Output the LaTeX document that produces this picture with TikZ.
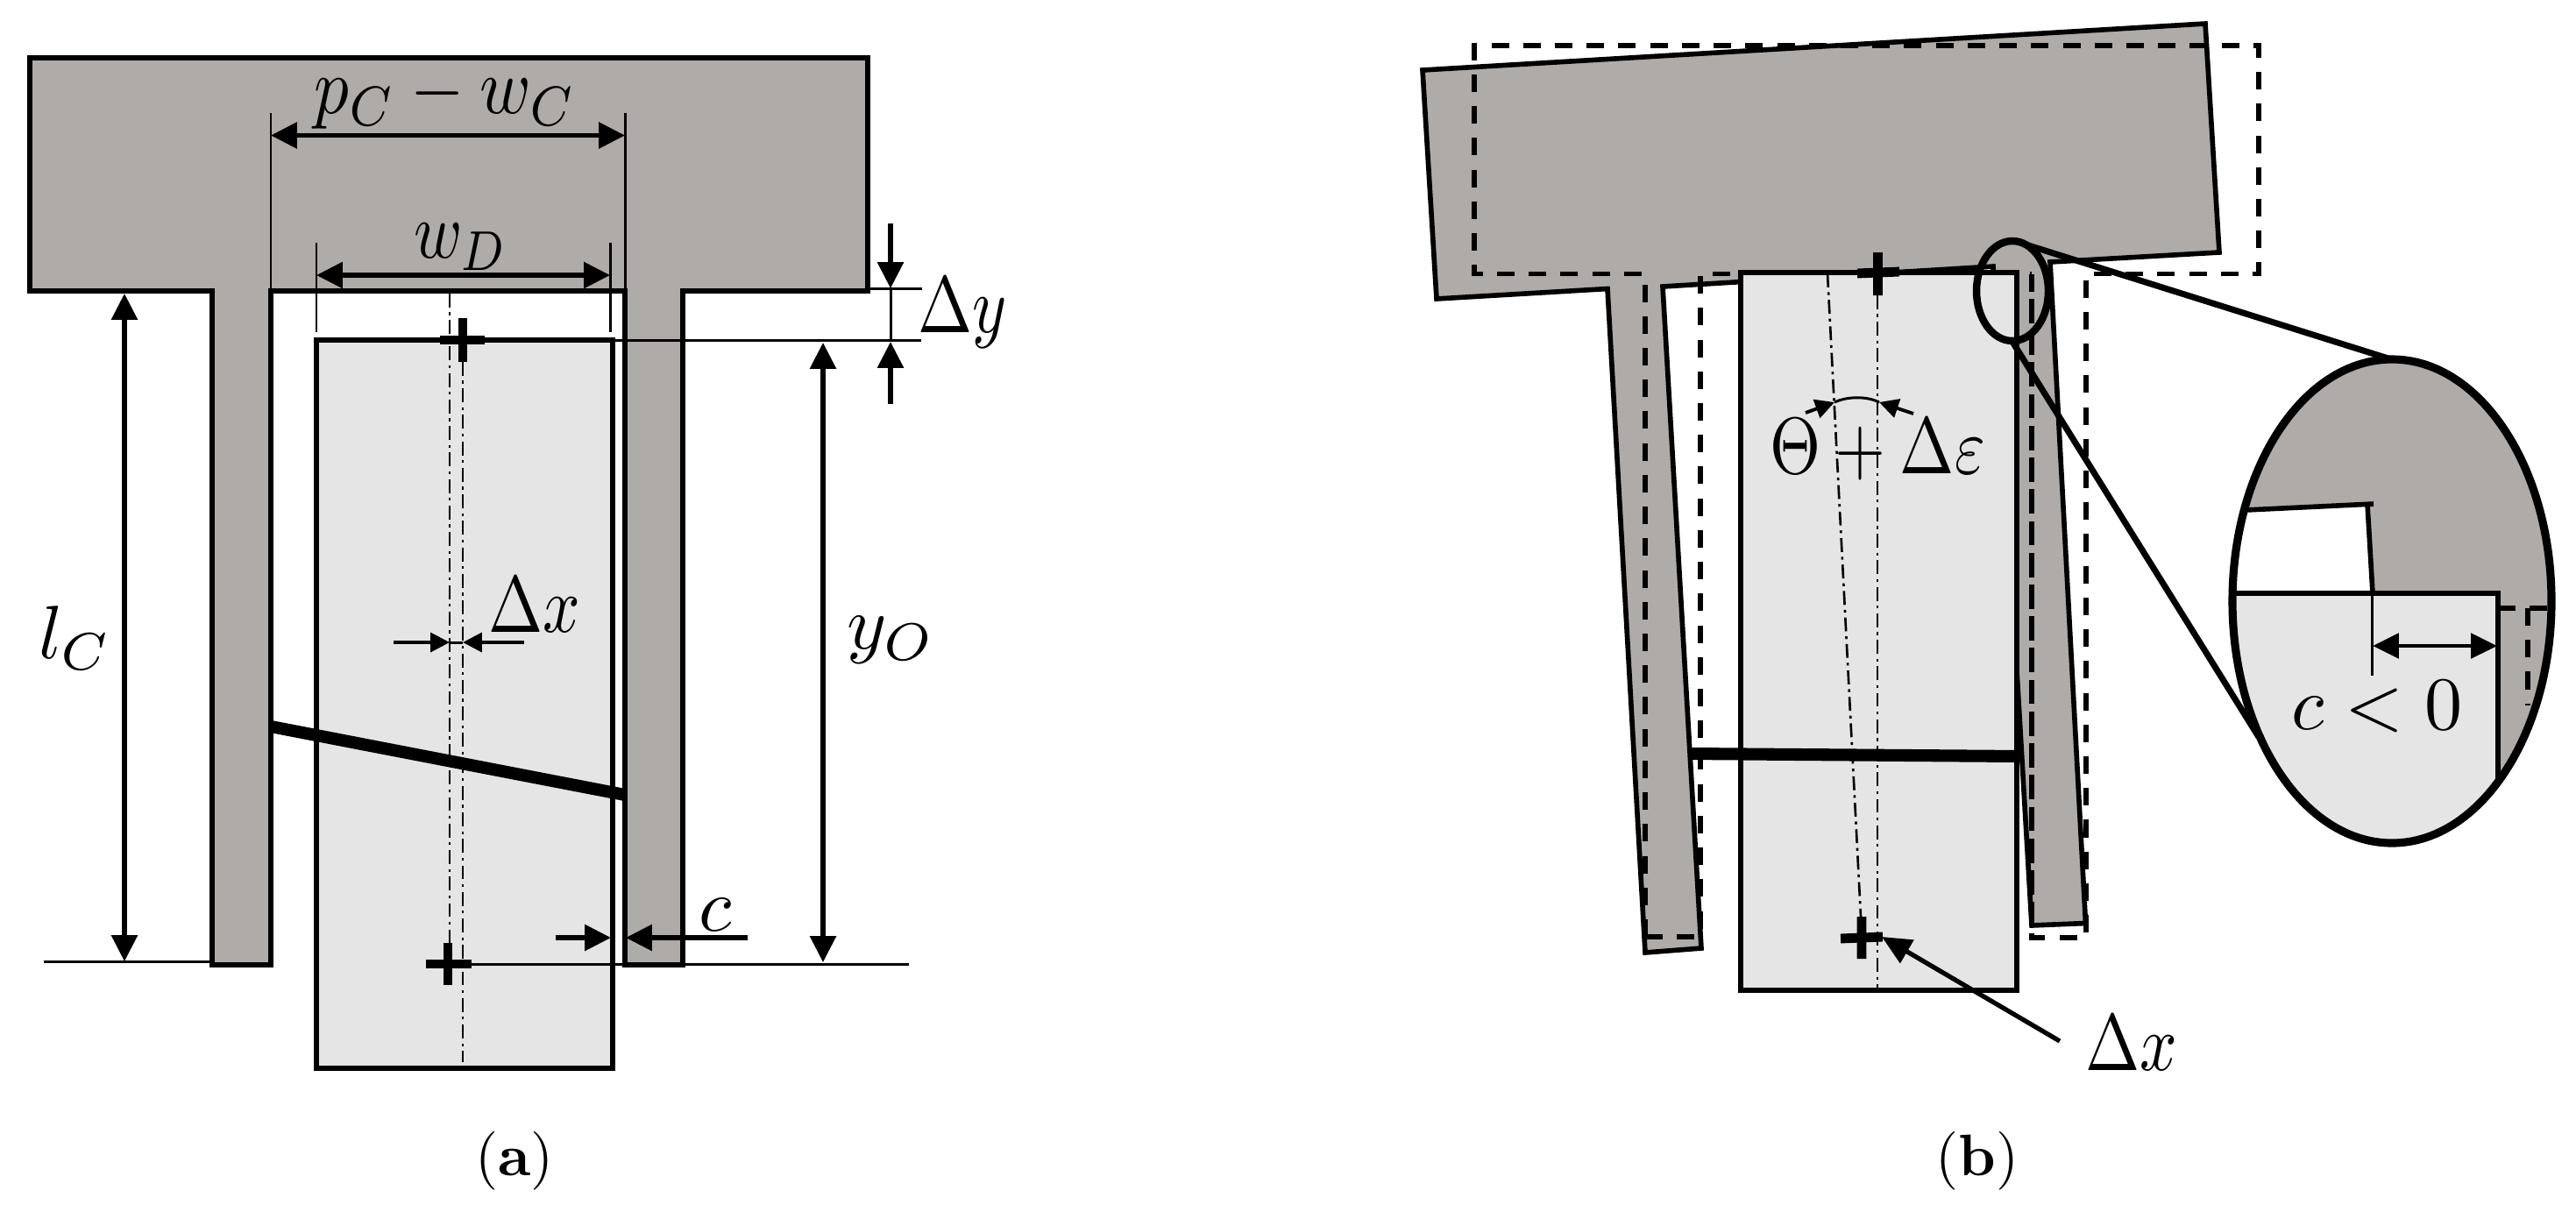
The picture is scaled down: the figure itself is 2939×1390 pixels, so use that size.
\documentclass[tikz,border=0pt]{standalone}
\usetikzlibrary{arrows.meta}
\definecolor{tgray}{HTML}{AFABA9}
\definecolor{dgray}{HTML}{E5E5E5}
\tikzset{
  main/.style={line width=1.6pt,line join=miter},
  thin line/.style={line width=0.85pt},
  bar/.style={line width=4pt},
  crossbar/.style={line width=3.1pt},
  center line/.style={line width=0.75pt,dash pattern=on 4.5pt off 1.6pt on 0.9pt off 1.6pt},
  dash line/.style={line width=1.6pt,dash pattern=on 5.7pt off 4.6pt},
  dim/.style={line width=1.5pt,-{Triangle[length=8.5pt,width=8.3pt]}},
  dimtwo/.style={line width=1.5pt,{Triangle[length=8.5pt,width=8.3pt]}-{Triangle[length=8.5pt,width=8.3pt]}},
  small dim/.style={line width=1.1pt,-{Triangle[length=6.2pt,width=6.2pt]}},
  lab/.style={inner sep=0pt,scale=2.45},
  narrow lab/.style={inner sep=0pt,xscale=2.12,yscale=2.6},
  cap lab/.style={inner sep=0pt,scale=1.9},
}
\begin{document}
\begin{tikzpicture}[x=0.01cm,y=-0.01cm]
\useasboundingbox (0,0) rectangle (2939,1390);
%% ---------- panel (a)
\draw[main,fill=tgray] (34,66)--(990,66)--(990,332)--(779,332)--(779,1101)--(713,1101)--(713,332)--(309,332)--(309,1101)--(242,1101)--(242,332)--(34,332)--cycle;
\draw[main,fill=dgray] (361,388) rectangle (699,1219);
% extension lines
\draw[thin line] (309,129)--(309,332) (713,129)--(713,332) (361,277)--(361,379) (696,277)--(696,379);
\draw[thin line] (699,388)--(1051,388) (990,329.5)--(1052,329.5) (538,1100)--(1037,1100) (50,1097)--(242,1097);
% centre lines
\draw[center line] (513,335)--(513,1076);
\draw[center line] (528,413)--(528,1212);
% crosses
\draw[crossbar] (502,388)--(553,388) (528,363)--(528,413);
\draw[crossbar] (486,1100)--(538,1100) (511,1076)--(511,1124);
% tie bar
\draw[bar] (309,829)--(713,907);
% dimensions
\draw[dimtwo] (309,154.5)--(713,154.5);
\draw[dimtwo] (361,314)--(696,314);
\draw[dimtwo] (142,335)--(142,1097);
\draw[dimtwo] (939,391)--(939,1098);
\draw[dim] (1016,255)--(1016,329);
\draw[dim] (1016,461)--(1016,390);
\draw[thin line] (1016,329)--(1016,390);
\draw[small dim] (449,733)--(513,733);
\draw[small dim] (598,733)--(528,733);
\draw[thin line] (513,733)--(528,733);
\draw[dim] (634,1070)--(697,1070);
\draw[dim] (853,1070)--(714,1070);
% labels
\node[inner sep=0pt,xscale=2.25,yscale=2.6] (pw) at (508,112) {$p_C-w_C$};
\node[narrow lab] (wd) at (526,282) {$w_D$};
\node[narrow lab] (dy) at (1098,357) {$\Delta y$};
\node[narrow lab] (dxa) at (610,690) {$\Delta x$};
\node[lab] (lc) at (86,728) {$l_C$};
\node[lab] (yo) at (1017,730) {$y_O$};
\node[lab] (ca) at (816,1044) {$c$};
\node[cap lab] (capa) at (587,1325) {(\textbf{a})};
%% ---------- panel (b)
\draw[main,fill=tgray] (1623,80)--(2516,27)--(2532,288)--(2339,299)--(2379.5,1053.5)--(2318,1056)--(2274,304)--(1897,327)--(1941,1082)--(1877,1087)--(1834,329.5)--(1639,341)--cycle;
% undeformed outline
\draw[dash line] (1877,1069)--(1877,312.5)--(1682,312.5)--(1682,52)--(2577,52)--(2577,312.5)--(2380,312.5)--(2380,1070)--(2318,1070)--(2318,312.5);
\draw[dash line] (1877,1069)--(1940,1069)--(1940,312.5)--(2318,312.5);
% rotor
\draw[main,fill=dgray] (1986,311) rectangle (2301,1130);
\draw[dash line] (2318,312.5)--(2318,1070);
\draw[thin line] (2142,311)--(2274,304);
% centre lines
\draw[center line] (2142,337)--(2142,1127);
\draw[center line] (2085,312)--(2123,1046);
% crosses
\draw[crossbar] (2119,312)--(2167,310) (2142.5,288)--(2142.5,337);
\draw[crossbar] (2100,1071)--(2148,1069) (2124,1046)--(2124,1094);
% tie bar
\draw[bar] (1928,860)--(2305,863);
% angle
\draw[small dim] (2060,471)--(2093,459);
\draw[small dim] (2183,472)--(2144,459);
\draw[thin line] (2093,459) .. controls (2108,452) and (2130,452) .. (2144,459);
% leader
\draw[line width=1.5pt,-{Triangle[length=9.5pt,width=8.5pt]}] (2350,1188)--(2147,1069);
\node[narrow lab] (te) at (2142,513) {$\Theta+\Delta\varepsilon$};
\node[narrow lab] (dxb) at (2432,1190) {$\Delta x$};
\node[cap lab] (capb) at (2256,1325) {(\textbf{b})};
%% ---------- magnifier
\begin{scope}
\clip (2729,686) ellipse [x radius=182,y radius=276];
\fill[tgray] (2500,380) rectangle (2950,1000);
\fill[white] (2500,585)--(2704,575)--(2707,677)--(2500,677)--cycle;
\fill[dgray] (2500,677) rectangle (2850,1000);
\draw[main] (2500,585)--(2708,575);
\draw[main] (2701,575)--(2707,677);
\draw[main] (2500,677)--(2850,677)--(2850,1000);
\draw[thin line] (2706,677)--(2706,771);
\draw[dash line] (2850,694)--(2920,694);
\draw[dash line] (2884,694)--(2884,805);
\end{scope}
\draw[line width=1.4pt,{Triangle[length=8.5pt,width=8pt]}-{Triangle[length=8.5pt,width=8pt]}] (2707,737)--(2849,737);
\node[lab] (cz) at (2712,806) {$c<0$};
\draw[line width=2.6pt] (2729,686) ellipse [x radius=182,y radius=276];
\draw[line width=2.4pt] (2296,332) ellipse [x radius=41,y radius=57];
\draw[line width=2pt] (2311,279)--(2728,410);
\draw[line width=2pt] (2296,390)--(2577,841);
\end{tikzpicture}
\end{document}
